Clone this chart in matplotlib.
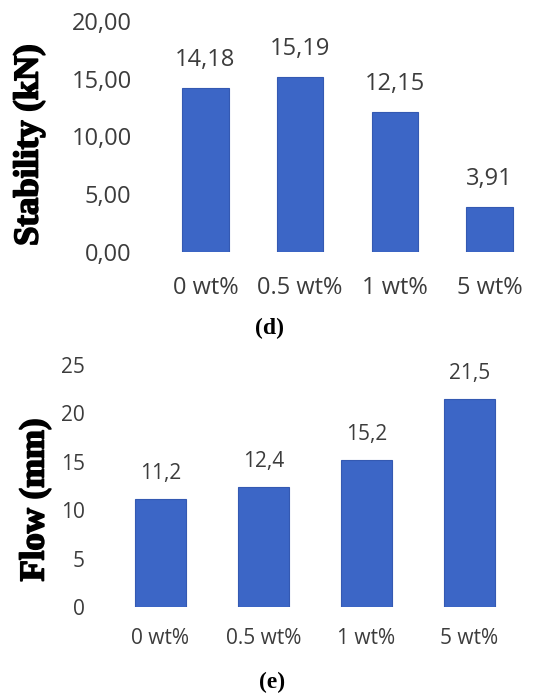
# Stability and flow bar charts, (d) and (e).
import numpy as np
import matplotlib
matplotlib.use("Agg")
import matplotlib.pyplot as plt
import matplotlib.patheffects as pe

# Data.
categories = ["0 wt%", "0.5 wt%", "1 wt%", "5 wt%"]
stability = [14.18, 15.19, 12.15, 3.91]
stability_labels = ["14,18", "15,19", "12,15", "3,91"]
stability_ticks = [0, 5, 10, 15, 20]
stability_ticklabels = ["0,00", "5,00", "10,00", "15,00", "20,00"]
flow = [11.2, 12.4, 15.2, 21.5]
flow_labels = ["11,2", "12,4", "15,2", "21,5"]
flow_ticks = [0, 5, 10, 15, 20, 25]

W, H = 534, 693
bar_color = "#3c66c6"
edge_color = "#3459b2"
text_color = "#3c3c3c"
tick_font = "Open Sans"
serif = "Liberation Serif"
heavy = [pe.withStroke(linewidth=1.2, foreground="black")]

fig = plt.figure(figsize=(W / 100, H / 100), dpi=100)


def px_axes(left, top, right, bottom):
    # axes from pixel box (image coordinates)
    return fig.add_axes([left / W, 1 - bottom / H, (right - left) / W, (bottom - top) / H])


def style(ax):
    for s in ax.spines.values():
        s.set_visible(False)
    ax.tick_params(length=0)


# (d) Stability.
ax1 = px_axes(158, 21, 534, 252)
x = np.arange(len(categories))
ax1.bar(x, stability, width=0.49, color=bar_color, edgecolor=edge_color, linewidth=0.8)
ax1.set_xlim(-0.5, 3.47)
ax1.set_ylim(0, 20)
ax1.set_yticks(stability_ticks)
ax1.set_yticklabels(stability_ticklabels, fontsize=17, color=text_color, family=tick_font)
ax1.set_xticks(x)
ax1.set_xticklabels(categories, fontsize=17, color=text_color, family=tick_font)
ax1.tick_params(axis="y", pad=19)
ax1.tick_params(axis="x", pad=17)
style(ax1)
for xi, v, lab in zip(x, stability, stability_labels):
    ax1.annotate(lab, (xi, v), xytext=(0, 20), textcoords="offset points",
                 ha="center", va="center", fontsize=17, color=text_color, family=tick_font)
fig.text(29 / W, 1 - 145 / H, "Stability (kN)", rotation=90, ha="center", va="center",
         fontsize=25, fontweight="bold", family=serif, color="black", path_effects=heavy)
fig.text(270 / W, 1 - 328 / H, "(d)", ha="center", va="center",
         fontsize=17, fontweight="bold", family=serif)

# (e) Flow.
ax2 = px_axes(100, 365, 534, 607)
ax2.bar(x, flow, width=0.5, color=bar_color, edgecolor=edge_color, linewidth=0.8)
ax2.set_xlim(-0.587, 3.627)
ax2.set_ylim(0, 25)
ax2.set_yticks(flow_ticks)
ax2.set_yticklabels([str(t) for t in flow_ticks], fontsize=15, color=text_color, family=tick_font)
ax2.set_xticks(x)
ax2.set_xticklabels(categories, fontsize=15, color=text_color, family=tick_font)
ax2.tick_params(axis="y", pad=11)
ax2.tick_params(axis="x", pad=15)
style(ax2)
for xi, v, lab in zip(x, flow, flow_labels):
    ax2.annotate(lab, (xi, v), xytext=(0, 18), textcoords="offset points",
                 ha="center", va="center", fontsize=15, color=text_color, family=tick_font)
fig.text(35 / W, 1 - 500 / H, "Flow (mm)", rotation=90, ha="center", va="center",
         fontsize=25, fontweight="bold", family=serif, color="black", path_effects=heavy)
fig.text(272 / W, 1 - 682 / H, "(e)", ha="center", va="center",
         fontsize=17, fontweight="bold", family=serif)

fig.savefig("out.png", dpi=100)
